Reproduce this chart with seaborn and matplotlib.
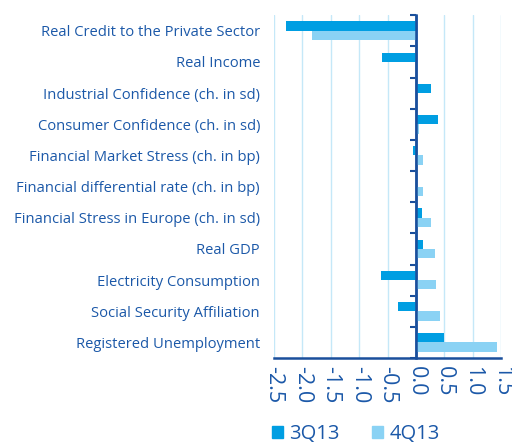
import matplotlib
matplotlib.use("Agg")
import matplotlib.pyplot as plt
import seaborn as sns
import pandas as pd
import numpy as np
from matplotlib.patches import Patch

categories = [
    "Real Credit to the Private Sector",
    "Real Income",
    "Industrial Confidence (ch. in sd)",
    "Consumer Confidence (ch. in sd)",
    "Financial Market Stress (ch. in bp)",
    "Financial differential rate (ch. in bp)",
    "Financial Stress in Europe (ch. in sd)",
    "Real GDP",
    "Electricity Consumption",
    "Social Security Affiliation",
    "Registered Unemployment",
]
q3_values = [-2.29, -0.60, 0.26, 0.38, -0.06, 0.0, 0.10, 0.13, -0.61, -0.31, 0.49]
q4_values = [-1.83, 0.0, 0.02, 0.06, 0.12, 0.13, 0.27, 0.34, 0.36, 0.43, 1.43]
series = ["3Q13", "4Q13"]
xticks = [-2.5, -2.0, -1.5, -1.0, -0.5, 0.0, 0.5, 1.0, 1.5]

c3 = "#009EE2"
c4 = "#8AD2F4"
txt = "#1B58A8"
axc = "#1A4F9C"

df = pd.DataFrame({
    "cat": categories * 2,
    "val": q3_values + q4_values,
    "series": [series[0]] * len(categories) + [series[1]] * len(categories),
})

sns.set_style("white")
plt.rcParams["font.family"] = ["Open Sans", "DejaVu Sans"]

fig = plt.figure(figsize=(5.12, 4.47), dpi=100)
ax = fig.add_axes([0.535, 0.199, 0.444, 0.767])

sns.barplot(data=df, y="cat", x="val", hue="series", orient="h",
            palette=[c3, c4], width=0.6, ax=ax, legend=False,
            saturation=1, linewidth=0)

ax.set_xlim(-2.5, 1.5)
ax.set_ylim(10.5, -0.5)
ax.set_xticks(xticks)
ax.set_xticklabels([f"{t:.1f}" for t in xticks], rotation=-90,
                   fontsize=15.5, color=txt)
ax.tick_params(axis="x", direction="out", length=5, width=1.5, color=axc, pad=1)
ax.set_yticks(range(len(categories)))
ax.set_yticklabels(categories, fontsize=10.6, color=txt)
ax.tick_params(axis="y", length=0, pad=10)
ax.set_xlabel("")
ax.set_ylabel("")
ax.grid(axis="x", color="#C5E8F8", linewidth=1)
ax.set_axisbelow(True)
for s in ["top", "right", "left"]:
    ax.spines[s].set_visible(False)
ax.spines["bottom"].set_color(axc)
ax.spines["bottom"].set_linewidth(1.8)

ax.axvline(0, color=axc, linewidth=1.8, zorder=5)
zero_frac = (0 - (-2.5)) / (1.5 - (-2.5))
sec = ax.secondary_yaxis(zero_frac)
sec.set_yticks(np.arange(-0.5, len(categories), 1.0))
sec.set_yticklabels([])
sec.tick_params(axis="y", length=4, width=1.5, color=axc, direction="in")
for sp in sec.spines.values():
    sp.set_color(axc)
    sp.set_linewidth(1.8)

handles = [Patch(color=c3, label=series[0]), Patch(color=c4, label=series[1])]
fig.legend(handles=handles, loc="center", bbox_to_anchor=(0.695, 0.028),
           ncol=2, frameon=False, fontsize=14.5, handlelength=0.55,
           handleheight=0.55, handletextpad=0.3, columnspacing=1.6,
           labelcolor=txt, borderpad=0.1)

fig.savefig("out.png", dpi=100)
